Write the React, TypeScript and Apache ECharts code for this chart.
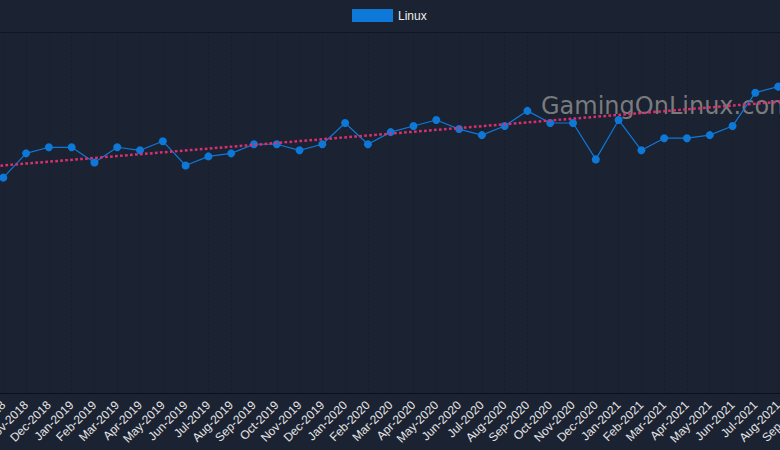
import React, { useEffect, useRef } from "react";
import * as echarts from "echarts";

const categories = [
  "Sep-2018", "Oct-2018", "Nov-2018", "Dec-2018",
  "Jan-2019", "Feb-2019", "Mar-2019", "Apr-2019", "May-2019", "Jun-2019",
  "Jul-2019", "Aug-2019", "Sep-2019", "Oct-2019", "Nov-2019", "Dec-2019",
  "Jan-2020", "Feb-2020", "Mar-2020", "Apr-2020", "May-2020", "Jun-2020",
  "Jul-2020", "Aug-2020", "Sep-2020", "Oct-2020", "Nov-2020", "Dec-2020",
  "Jan-2021", "Feb-2021", "Mar-2021", "Apr-2021", "May-2021", "Jun-2021",
  "Jul-2021", "Aug-2021", "Sep-2021",
];

const linuxShare: (number | null)[] = [
  null, 0.71, 0.79, 0.81,
  0.81, 0.76, 0.81, 0.80, 0.83, 0.75,
  0.78, 0.79, 0.82, 0.82, 0.80, 0.82,
  0.89, 0.82, 0.86, 0.88, 0.90, 0.87,
  0.85, 0.88, 0.93, 0.89, 0.89, 0.77,
  0.90, 0.80, 0.84, 0.84, 0.85, 0.88,
  0.99, 1.01, null,
];

const trendStart = 0.744;
const trendEnd = 0.966;

const yMin = 0;
const yMax = 1.19;

const watermark = "GamingOnLinux.com";

export default function App() {
  const ref = useRef<HTMLDivElement>(null);

  useEffect(() => {
    if (!ref.current) return;
    const chart = echarts.init(ref.current, null, { renderer: "svg" });
    const last = categories.length - 1;
    const trendData = categories.map((_, i) =>
      i === 0 ? trendStart : i === last ? trendEnd : null
    );
    chart.setOption({
      animation: false,
      backgroundColor: "#1b2232",
      legend: {
        data: ["Linux"],
        left: 352,
        top: 9,
        padding: 0,
        itemWidth: 41,
        itemHeight: 13,
        icon: "rect",
        itemStyle: { color: "#0e78d9", borderWidth: 0 },
        textStyle: { color: "#eeeeee", fontSize: 12, fontFamily: "Liberation Sans" },
      },
      graphic: [
        {
          type: "text",
          x: 541,
          y: 94,
          z: 0,
          silent: true,
          style: {
            text: watermark,
            fill: "rgba(140,140,140,0.85)",
            fontSize: 24,
            fontFamily: "DejaVu Sans",
            verticalAlign: "top",
            align: "left",
          },
        },
      ],
      grid: {
        left: -19.5,
        right: -20.9,
        top: 32,
        bottom: 57,
        outerBoundsMode: "none",
        containLabel: false,
      },
      xAxis: {
        type: "category",
        data: categories,
        boundaryGap: false,
        axisLine: { show: true, lineStyle: { color: "rgba(0,0,0,0.3)", width: 1 } },
        axisTick: { show: false },
        axisLabel: {
          interval: 0,
          rotate: 45,
          margin: 10,
          color: "#e6e6e6",
          fontSize: 12,
          fontFamily: "Liberation Sans",
        },
        splitLine: {
          show: true,
          interval: 0,
          lineStyle: { color: "rgba(0,0,0,0.14)", width: 1, type: [2, 2] },
        },
      },
      yAxis: {
        type: "value",
        min: yMin,
        max: yMax,
        interval: yMax,
        axisLine: { show: false },
        axisTick: { show: false },
        axisLabel: { show: false },
        splitLine: { show: true, lineStyle: { color: "rgba(0,0,0,0.3)", width: 1 } },
      },
      series: [
        {
          name: "Linux",
          type: "line",
          data: linuxShare,
          symbol: "circle",
          symbolSize: 8,
          showSymbol: true,
          itemStyle: { color: "#0e78d9" },
          lineStyle: { color: "#0e78d9", width: 1.2 },
          z: 3,
        },
        {
          name: "Trend",
          type: "line",
          data: trendData,
          connectNulls: true,
          symbol: "none",
          lineStyle: { color: "#d8306e", width: 2.5, type: [2.7, 2.3] },
          z: 4,
        },
      ],
    });
    return () => chart.dispose();
  }, []);

  return (
    <div
      ref={ref}
      style={{ position: "fixed", left: 0, top: 0, width: 780, height: 450 }}
    />
  );
}
